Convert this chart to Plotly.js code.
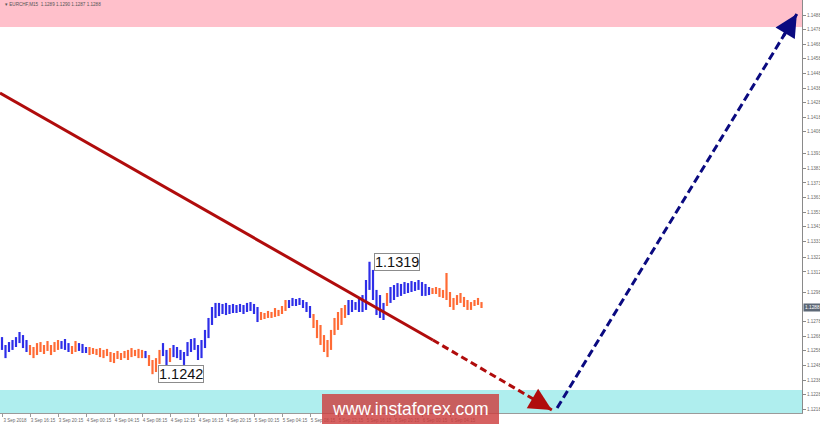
<!DOCTYPE html>
<html><head><meta charset="utf-8">
<script src="https://cdn.plot.ly/plotly-3.0.1.min.js"></script>
<style>html,body{margin:0;padding:0;background:#fff}#chart{width:820px;height:426px}</style>
</head><body><div id="chart"></div>
<script>
// ---- data ----
const symbolName = "EURCHF,M15";
const lastBar = [1.1289, 1.1290, 1.1287, 1.1288]; // O H L C shown in header
const barHigh = [1.12674,1.12620,1.12640,1.12654,1.12674,1.12709,1.12688,1.12654,1.12620,1.12606,
1.12633,1.12640,1.12620,1.12647,1.12620,1.12640,1.12654,1.12647,1.12661,1.12633,
1.12613,1.12647,1.12633,1.12627,1.12606,1.12606,1.12599,1.12593,1.12599,1.12586,
1.12593,1.12572,1.12565,1.12579,1.12565,1.12579,1.12586,1.12599,1.12586,1.12593,
1.12586,1.12579,1.12551,1.12517,1.12530,1.12586,1.12633,1.12586,1.12599,1.12620,
1.12606,1.12586,1.12572,1.12640,1.12661,1.12667,1.12620,1.12654,1.12723,1.12805,
1.12880,1.12908,1.12908,1.12901,1.12908,1.12894,1.12901,1.12894,1.12901,1.12894,
1.12908,1.12914,1.12901,1.12880,1.12846,1.12839,1.12853,1.12846,1.12873,1.12860,
1.12887,1.12928,1.12928,1.12942,1.12935,1.12942,1.12928,1.12914,1.12887,1.12832,
1.12791,1.12757,1.12688,1.12654,1.12723,1.12805,1.12846,1.12873,1.12894,1.12928,
1.12928,1.12914,1.12942,1.12962,1.13065,1.13190,1.13134,1.12997,1.12962,1.12908,
1.12976,1.13017,1.13031,1.13044,1.13038,1.13051,1.13044,1.13058,1.13051,1.13065,
1.13051,1.13038,1.13017,1.13010,1.13017,1.13010,1.12997,1.13113,1.12983,1.12942,
1.12962,1.12976,1.12949,1.12928,1.12914,1.12928,1.12942,1.12914];
const barLow = [1.12586,1.12530,1.12572,1.12586,1.12606,1.12633,1.12599,1.12572,1.12551,1.12530,
1.12551,1.12572,1.12558,1.12579,1.12551,1.12572,1.12586,1.12593,1.12586,1.12572,
1.12558,1.12572,1.12579,1.12565,1.12565,1.12551,1.12558,1.12551,1.12537,1.12530,
1.12544,1.12503,1.12496,1.12524,1.12517,1.12530,1.12517,1.12537,1.12544,1.12530,
1.12530,1.12530,1.12476,1.12420,1.12435,1.12490,1.12544,1.12462,1.12503,1.12537,
1.12530,1.12517,1.12483,1.12544,1.12572,1.12586,1.12517,1.12530,1.12599,1.12667,
1.12757,1.12805,1.12818,1.12832,1.12825,1.12832,1.12839,1.12839,1.12846,1.12832,
1.12846,1.12853,1.12832,1.12777,1.12791,1.12798,1.12805,1.12805,1.12812,1.12818,
1.12832,1.12853,1.12873,1.12887,1.12887,1.12894,1.12873,1.12846,1.12805,1.12736,
1.12667,1.12620,1.12572,1.12537,1.12586,1.12688,1.12723,1.12757,1.12805,1.12825,
1.12846,1.12860,1.12846,1.12846,1.12860,1.12997,1.12928,1.12825,1.12805,1.12791,
1.12887,1.12908,1.12928,1.12949,1.12956,1.12969,1.12976,1.12983,1.12990,1.12997,
1.12956,1.12956,1.12962,1.12969,1.12969,1.12949,1.12942,1.12928,1.12880,1.12860,
1.12894,1.12908,1.12880,1.12860,1.12860,1.12887,1.12894,1.12873];
// wave colouring of each bar: b = blue wave, o = orange wave
const waveSide = ("bbbbbbbb"+"ooooooooo"+"bbb"+"oo"+"bbb"+"oooooooooooooooo"+"b"+"oooo"+"bb"+"o"+
  "bbbbbbbbbbbbbbbbbbbbbbbbb"+"oooooooo"+"bbbbbbb"+"oooooooooo"+"bbbbbbbbbbb"+"o"+
  "bbbbbbbbbbbb"+"ooooooooooooooo").split("");
const timeLabels = ["3 Sep 2018","3 Sep 16:15","3 Sep 20:15","4 Sep 00:15","4 Sep 04:15","4 Sep 08:15",
  "4 Sep 12:15","4 Sep 16:15","4 Sep 20:15","5 Sep 00:15","5 Sep 04:15","5 Sep 08:15","5 Sep 12:15",
  "5 Sep 16:15","5 Sep 20:15","6 Sep 00:15","6 Sep 04:15"];
const barsPerLabel = 8;
const priceLabels = [1.1488,1.1478,1.1468,1.1458,1.1448,1.1438,1.1428,1.1418,1.1408,1.1393,1.1383,
  1.1373,1.1363,1.1353,1.1343,1.1333,1.1322,1.1312,1.1298,1.1278,1.1268,1.1258,1.1248,1.1238,1.1228,1.1218];
const resistanceZone = [1.14798, 1.14990];
const supportZone = [1.12154, 1.12312];
// forecast paths (bar index, price)
const bearPathX = [-0.57, 123.1, 157.1];
const bearPathY = [1.14346, 1.12654, 1.12175];
const bullPathX = [158.6, 227.1];
const bullPathY = [1.12188, 1.14887];

// ---- build ----
const BLUE = "#2e2ee8", ORANGE = "#ff6b35", RED = "#b00c0c", NAVY = "#0a0a80";
function bars(side){
  const x=[], y=[];
  for(let i=0;i<barHigh.length;i++){
    if(waveSide[i]!==side) continue;
    x.push(i,i,null); y.push(barLow[i],barHigh[i],null);
  }
  return {x,y};
}
const bb = bars("b"), ob = bars("o");
const traces = [
  {type:"scatter",mode:"lines",x:bb.x,y:bb.y,line:{color:BLUE,width:2.2},hoverinfo:"skip",connectgaps:false},
  {type:"scatter",mode:"lines",x:ob.x,y:ob.y,line:{color:ORANGE,width:2.2},hoverinfo:"skip",connectgaps:false},
  {type:"scatter",mode:"lines",x:bearPathX.slice(0,2),y:bearPathY.slice(0,2),line:{color:RED,width:3},hoverinfo:"skip"},
  {type:"scatter",mode:"lines",x:bearPathX.slice(1),y:bearPathY.slice(1),line:{color:RED,width:3,dash:"7px,4px"},hoverinfo:"skip"},
  {type:"scatter",mode:"lines",x:bullPathX,y:bullPathY,line:{color:NAVY,width:3,dash:"8px,4px"},hoverinfo:"skip"}
];
const xMin=-0.571, xMax=228.571, yMin=1.12154, yMax=1.14983;
let hiIdx=0, loIdx=0;
barHigh.forEach((v,i)=>{ if(v>barHigh[hiIdx]) hiIdx=i; });
barLow.forEach((v,i)=>{ if(v<barLow[loIdx]) loIdx=i; });
function head(px,py,color){
  const n=px.length, k=0.06;
  const tx=px[n-1], ty=py[n-1];
  return {x:tx,y:ty,xref:"x",yref:"y",axref:"x",ayref:"y",
    ax:tx-(tx-px[n-2])*k, ay:ty-(ty-py[n-2])*k, showarrow:true, arrowhead:2,
    arrowsize:1.5, arrowwidth:3, arrowcolor:color, standoff:0, text:""};
}
const annotations = [
  {x:hiIdx,y:barHigh[hiIdx],xref:"x",yref:"y",text:barHigh[hiIdx].toFixed(4),showarrow:false,
   xanchor:"left",yanchor:"middle",xshift:4,bgcolor:"#ffffff",bordercolor:"#8c8c8c",borderwidth:1,borderpad:0,
   font:{family:"Liberation Sans, Arial",size:14.5,color:"#111"}},
  {x:loIdx,y:barLow[loIdx],xref:"x",yref:"y",text:barLow[loIdx].toFixed(4),showarrow:false,
   xanchor:"left",yanchor:"middle",xshift:5,bgcolor:"#ffffff",bordercolor:"#8c8c8c",borderwidth:1,borderpad:0,
   font:{family:"Liberation Sans, Arial",size:14.5,color:"#111"}},
  head(bearPathX,bearPathY,RED),
  head(bullPathX,bullPathY,NAVY),
  {x:0.004,y:0.988,xref:"paper",yref:"paper",xanchor:"left",yanchor:"middle",showarrow:false,
   text:"▾ "+symbolName+"  "+lastBar.map(v=>v.toFixed(4)).join(" "),
   font:{family:"Liberation Sans, Arial",size:4.6,color:"#555"}},
  {x:1,y:lastBar[3],xref:"paper",yref:"y",xanchor:"left",yanchor:"middle",showarrow:false,
   text:lastBar[3].toFixed(4),bgcolor:"#5d6876",borderpad:1,xshift:1,
   font:{family:"Liberation Sans, Arial",size:4.8,color:"#ffffff"}},
  {x:0.512,y:0.0097,xref:"paper",yref:"paper",xanchor:"center",yanchor:"middle",showarrow:false,
   text:"www.instaforex.com",font:{family:"Liberation Sans, Arial",size:17.5,color:"#ffffff"}}
];
const shapes = [
  {type:"rect",xref:"paper",x0:0,x1:1,yref:"y",y0:resistanceZone[0],y1:resistanceZone[1],
   fillcolor:"#ffc0cb",line:{width:0},layer:"below"},
  {type:"rect",xref:"paper",x0:0,x1:1,yref:"y",y0:supportZone[0],y1:supportZone[1],
   fillcolor:"#afeeee",line:{width:0},layer:"below"},
  {type:"rect",xref:"paper",yref:"paper",x0:0.4015,x1:0.6222,y0:0.046,y1:-0.0266,
   fillcolor:"rgba(205,62,62,0.82)",line:{width:0},layer:"above"}
];
const layout = {
  width:820,height:426,margin:{l:0,r:18,t:0,b:13},
  paper_bgcolor:"#ffffff",plot_bgcolor:"#ffffff",showlegend:false,
  xaxis:{range:[xMin,xMax],showgrid:false,zeroline:false,showline:true,linecolor:"#9a9a9a",linewidth:1,
    tickmode:"array",tickvals:timeLabels.map((_,k)=>k*barsPerLabel),ticktext:timeLabels,
    ticks:"outside",ticklen:3,tickcolor:"#9a9a9a",ticklabelshift:13,
    tickfont:{family:"Liberation Sans, Arial",size:4.5,color:"#6a6a6a"}},
  yaxis:{range:[yMin,yMax],side:"right",showgrid:false,zeroline:false,showline:true,linecolor:"#8a8a8a",linewidth:1,
    tickmode:"array",tickvals:priceLabels,ticktext:priceLabels.map(v=>v.toFixed(4)),
    ticks:"outside",ticklen:3,tickcolor:"#8a8a8a",
    tickfont:{family:"Liberation Sans, Arial",size:4.6,color:"#6a6a6a"}},
  shapes, annotations
};
Plotly.newPlot("chart",traces,layout,{displayModeBar:false,staticPlot:true});
</script></body></html>
